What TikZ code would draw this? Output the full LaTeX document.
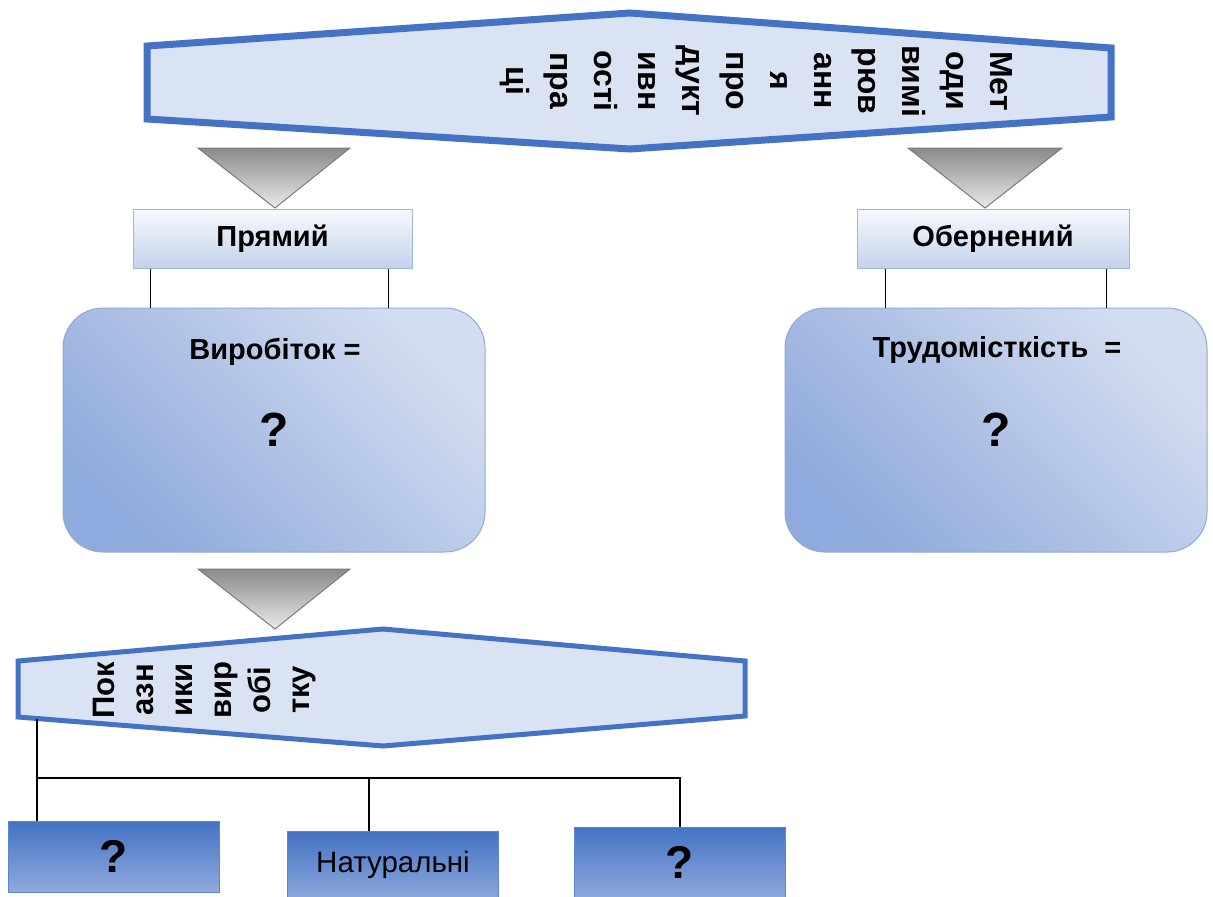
\documentclass[tikz,border=0pt]{standalone}
\usepackage{fontspec}
\setmainfont{Liberation Sans}
\definecolor{hexblue}{HTML}{4472C4}
\definecolor{hexfill}{HTML}{DAE3F3}
\definecolor{trid}{HTML}{8A8A8A}
\definecolor{tril}{HTML}{EAEAEA}
\definecolor{trib}{HTML}{7A7A7A}
\definecolor{sbtop}{HTML}{F7F9FD}
\definecolor{sbbot}{HTML}{C3D2EC}
\definecolor{sbord}{HTML}{9DB7E2}
\definecolor{rbdark}{HTML}{8FAADC}
\definecolor{rblight}{HTML}{D3DDF0}
\definecolor{rbord}{HTML}{8EAADB}
\definecolor{bbtop}{HTML}{4472C4}
\definecolor{bbbot}{HTML}{8FAADC}
\definecolor{bbord}{HTML}{5A86D2}
\begin{document}
\begin{tikzpicture}[x=1pt,y=-1pt,
  hexa/.style={draw=hexblue, fill=hexfill, line join=miter},
  tri/.style={draw=trib, line width=1pt, line join=miter, top color=trid, bottom color=tril},
  smallbox/.style={draw=sbord, line width=1pt, top color=sbtop, bottom color=sbbot, inner sep=0,
    font=\fontsize{29}{32}\selectfont\bfseries},
  roundbox/.style={draw=rbord, line width=1pt, rounded corners=40pt, top color=rblight, bottom color=rbdark,
    shading angle=-45, inner sep=0, minimum width=422pt, minimum height=244pt,
    font=\fontsize{48}{50}\selectfont\bfseries},
  titletext/.style={inner sep=0, font=\fontsize{29}{32}\selectfont\bfseries},
  bottombox/.style={draw=bbord, line width=1pt, top color=bbtop, bottom color=bbbot, inner sep=0,
    minimum width=211pt, minimum height=71pt},
  vtext/.style={inner sep=0, align=center},
  conn/.style={draw=black, line width=1.4pt}
]
\useasboundingbox (0,0) rectangle (1213,897);
\clip (0,0) rectangle (1213,897);
\fill[white] (0,0) rectangle (1213,897);

% top hexagon
\draw[hexa, line width=7pt] (147,46) -- (630,13) -- (1111,48) -- (1111,117) -- (630,149) -- (147,119) -- cycle;
\node[vtext, rotate=-90, font=\fontsize{32}{44}\selectfont\bfseries] (title) at (756,81)
  {Мет\\оди\\вимі\\рюв\\анн\\я\\про\\дукт\\ивн\\ості\\пра\\ці};

% triangles
\path[tri] (198,148) -- (350,148) -- (275,208) -- cycle;
\path[tri] (908,148) -- (1062,148) -- (985,208) -- cycle;
\path[tri] (198,569) -- (350,569) -- (275,629) -- cycle;

% small boxes
\node[smallbox, minimum width=279pt, minimum height=59pt] (prym) at (272.5,238.5) {Прямий};
\node[smallbox, minimum width=272pt, minimum height=59pt] (obern) at (993,238.5) {Обернений};

% rounded boxes
\node[roundbox] (vyr) at (274,430) {\raisebox{-3pt}{?}};
\node[roundbox] (trud) at (996,430) {\raisebox{-2pt}{?}};
\node[titletext] (vyrt) at (275,352) {Виробіток =};
\node[titletext] (trudt) at (997,350) {Трудомісткість\ \ =};

% connectors between small boxes and rounded boxes
\draw[conn] ([xshift=18pt]prym.south west) -- ([xshift=18pt]prym.south west |- vyr.north);
\draw[conn] ([xshift=-24pt]prym.south east) -- ([xshift=-24pt]prym.south east |- vyr.north);
\draw[conn] ([xshift=29pt]obern.south west) -- ([xshift=29pt]obern.south west |- trud.north);
\draw[conn] ([xshift=-23pt]obern.south east) -- ([xshift=-23pt]obern.south east |- trud.north);

% bottom hexagon
\draw[hexa, line width=5pt] (18,661) -- (383,629) -- (745,661) -- (745,716) -- (383,746) -- (18,717) -- cycle;
\node[vtext, rotate=90, font=\fontsize{31}{39}\selectfont\bfseries] (sub) at (205,690)
  {Пок\\азн\\ики\\вир\\обі\\тку};

% bottom boxes
\node[bottombox, font=\fontsize{46}{48}\selectfont\bfseries] (b1) at (114,856.5) {?};
\node[bottombox, font=\fontsize{29.5}{32}\selectfont] (b2) at (393,866.5) {\raisebox{8.5pt}{Натуральні}};
\node[bottombox, font=\fontsize{46}{48}\selectfont\bfseries] (b3) at (680,862.5) {?};

% bottom connectors
\coordinate (hl) at (37,719);
\coordinate (j1) at (37,778);
\coordinate (j2) at (369,778);
\draw[conn] (hl) -- (hl |- b1.north);
\draw[conn] (j1) -| (b3.north);
\draw[conn] (j2) -- (j2 |- b2.north);
\end{tikzpicture}
\end{document}
